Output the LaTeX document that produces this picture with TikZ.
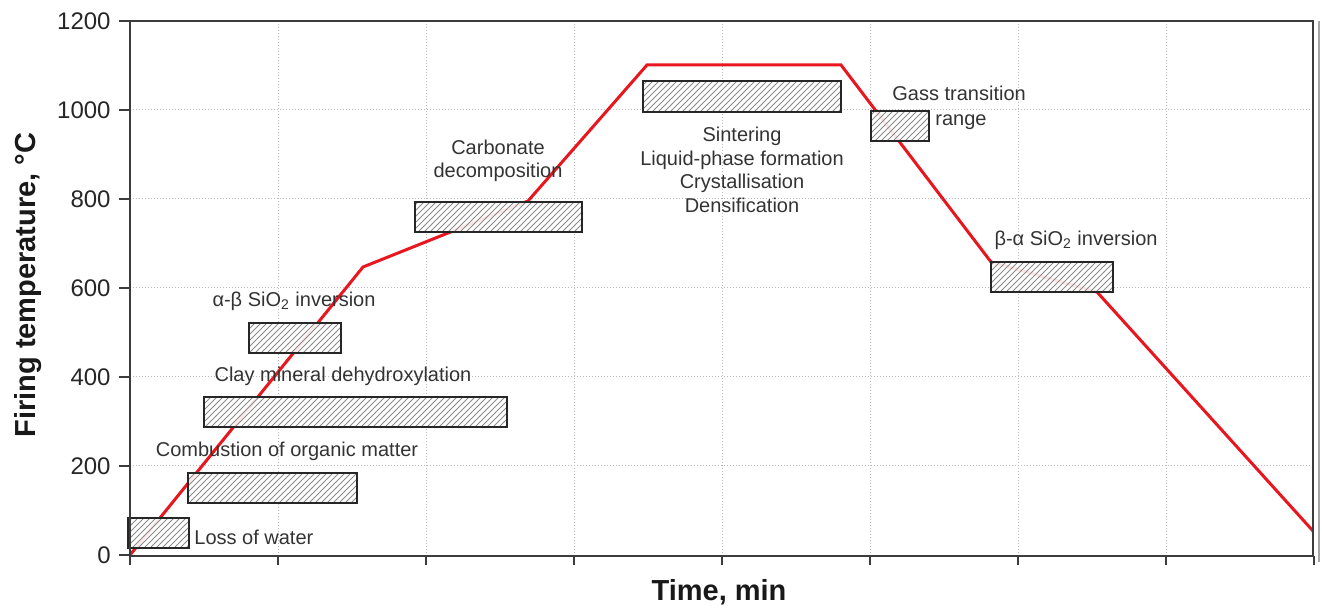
\documentclass[tikz,border=0pt]{standalone}
\usepackage{fontspec}
\setmainfont{Liberation Sans}
\usetikzlibrary{patterns}
\definecolor{curvered}{RGB}{232,22,30}
\definecolor{framegray}{RGB}{60,60,60}
\newcommand{\hatchrect}[4]{%
  \fill[white, fill opacity=0.9] (#1,#2) rectangle (#3,#4);
  \fill[pattern=north east lines, pattern color=black!45] (#1,#2) rectangle (#3,#4);
  \draw[boxline] (#1,#2) rectangle (#3,#4);}
\begin{document}
\begin{tikzpicture}[x=0.5pt,y=-0.5pt,
  gridline/.style={gray!55, densely dotted, line width=0.5pt},
  frame/.style={framegray, line width=1.2pt},
  tickmark/.style={framegray, line width=1pt},
  ticklabel/.style={font=\fontsize{12}{12}\selectfont, text=black!85, anchor=east, inner sep=0pt},
  note/.style={font=\fontsize{10}{11.8}\selectfont, text=black!80, inner sep=0pt},
  axislabel/.style={font=\bfseries\fontsize{14.5}{14.5}\selectfont, text=black!90, inner sep=0pt},
  curve/.style={curvered, line width=1.5pt, line join=miter},
  boxline/.style={black!85, line width=1pt}]
\useasboundingbox (0,0) rectangle (1322,608);
% grid
\foreach \k in {1,...,7} \draw[gridline] ({130+148*\k},21) -- ({130+148*\k},555);
\foreach \t in {1,...,5} \draw[gridline] (130,{555-89*\t}) -- (1313,{555-89*\t});
% firing curve
\coordinate (p0) at (130,555);
\coordinate (p1) at (363,267);
\coordinate (p2) at (528,201);
\coordinate (p3) at (647,65);
\coordinate (p4) at (841,65);
\coordinate (p5) at (991,262);
\coordinate (p6) at (1097,292);
\coordinate (p7) at (1313,531);
\draw[curve] (p0) -- (p1) -- (p2) -- (p3) -- (p4) -- (p5) -- (p6) -- (p7);
% hatched ranges
\hatchrect{128}{518}{189}{548}
\hatchrect{188}{473}{357}{503}
\hatchrect{204}{397}{507}{427}
\hatchrect{249}{323}{341}{353}
\hatchrect{415}{202}{582}{232}
\hatchrect{643}{81}{841}{112}
\hatchrect{871}{111}{929}{141}
\hatchrect{991}{262}{1113}{292}
% labels
\node[note, anchor=west] (lw) at (194,537) {Loss of water};
\node[note] (co) at (287,451) {Combustion of organic matter};
\node[note] (cl) at (343,376) {Clay mineral dehydroxylation};
\node[note] (ab) at (294,301) {α-β SiO\textsubscript{2} inversion};
\node[note, align=center] (cd) at (498,161) {Carbonate\\decomposition};
\node[note, align=center] (si) at (742,170) {Sintering\\Liquid-phase formation\\Crystallisation\\Densification};
\node[note, anchor=west] (gt) at (892,93) {Gass transition};
\node[note, anchor=west] (gr) at (935,122) {range};
\node[note] (ba) at (1076,240) {β-α SiO\textsubscript{2} inversion};
% frame and ticks
\draw[frame] (130,21) rectangle (1313,556);
\draw[gray!70, line width=0.6pt] (1319,21) -- (1319,562);
\foreach \k/\lab in {0/0,1/200,2/400,3/600,4/800,5/1000,6/1200} {
  \draw[tickmark] (119,{555-89*\k}) -- (130,{555-89*\k});
  \node[ticklabel] (yl\k) at (111,{555-89*\k}) {\lab};
}
\foreach \k in {0,...,8} \draw[tickmark] ({130+148*\k},556) -- ({130+148*\k},565);
\node[axislabel, rotate=90] (ylab) at (28,285) {Firing temperature, °C};
\node[axislabel] (xlab) at (719,592) {Time, min};
\end{tikzpicture}
\end{document}
